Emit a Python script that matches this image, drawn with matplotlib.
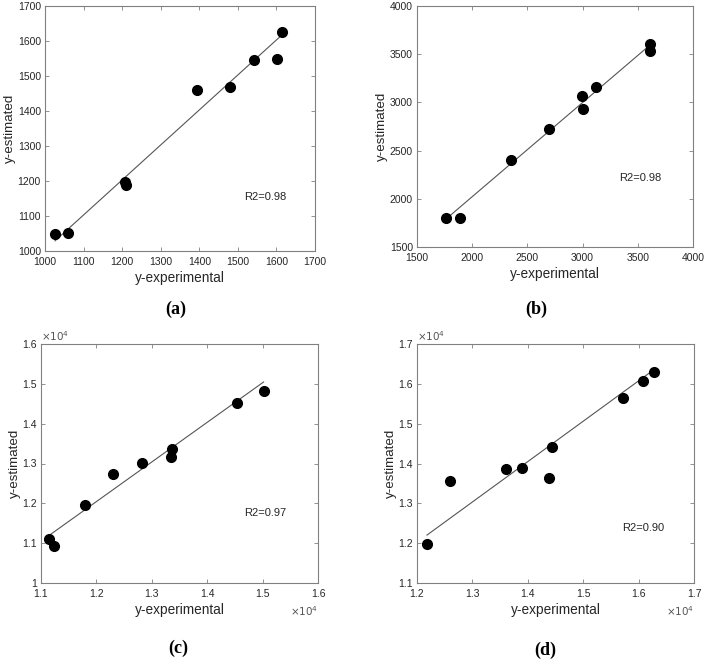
import matplotlib
matplotlib.use("Agg")
import matplotlib.pyplot as plt
from matplotlib.ticker import FuncFormatter

plt.rcParams['font.family'] = ['Liberation Sans', 'DejaVu Sans']

# Panel (a)
a_exp = [1027, 1060, 1207, 1210, 1394, 1479, 1543, 1601, 1615]
a_est = [1050, 1052, 1197, 1190, 1461, 1469, 1545, 1548, 1626]
a_fit_x = [1026, 1617]
a_fit_y = [1029, 1620]
a_ticks = [1000, 1100, 1200, 1300, 1400, 1500, 1600, 1700]

# Panel (b)
b_exp = [1766, 1892, 2351, 2699, 2998, 3004, 3124, 3611, 3611]
b_est = [1805, 1805, 2400, 2729, 3069, 2930, 3159, 3609, 3533]
b_fit_x = [1778, 3592]
b_fit_y = [1805, 3577]
b_ticks = [1500, 2000, 2500, 3000, 3500, 4000]

# Panel (c)
c_exp = [11145, 11229, 11795, 12307, 12831, 13343, 13361, 14536, 15018]
c_est = [11110, 10920, 11960, 12730, 13020, 13160, 13367, 14528, 14820]
c_fit_x = [11163, 15018]
c_fit_y = [11211, 15046]
c_xticks = [11000, 12000, 13000, 14000, 15000, 16000]
c_yticks = [10000, 11000, 12000, 13000, 14000, 15000, 16000]

# Panel (d)
d_exp = [12180, 12589, 13605, 13893, 14386, 14428, 15726, 16087, 16279]
d_est = [11977, 13570, 13857, 13899, 13632, 14417, 15637, 16071, 16305]
d_fit_x = [12180, 16309]
d_fit_y = [12203, 16388]
d_xticks = [12000, 13000, 14000, 15000, 16000, 17000]
d_yticks = [11000, 12000, 13000, 14000, 15000, 16000, 17000]

r2_labels = ["R2=0.98", "R2=0.98", "R2=0.97", "R2=0.90"]
panel_labels = ["(a)", "(b)", "(c)", "(d)"]

W, H = 708, 667
fig = plt.figure(figsize=(W / 100, H / 100), dpi=100)

def rect(l, r, t, b):
    return [l / W, (H - b) / H, (r - l) / W, (b - t) / H]

GRID = '#808080'
TXT = '#262626'

panels = [
    dict(pos=rect(45, 315, 6, 251), x=a_exp, y=a_est, fx=a_fit_x, fy=a_fit_y,
         xt=a_ticks, yt=a_ticks, sci=False, r2=(0.737, 0.22), lab=(176, 309)),
    dict(pos=rect(417, 693, 6, 247), x=b_exp, y=b_est, fx=b_fit_x, fy=b_fit_y,
         xt=b_ticks, yt=b_ticks, sci=False, r2=(0.732, 0.286), lab=(536, 309)),
    dict(pos=rect(41, 318, 344, 583), x=c_exp, y=c_est, fx=c_fit_x, fy=c_fit_y,
         xt=c_xticks, yt=c_yticks, sci=True, r2=(0.733, 0.293), lab=(178, 648)),
    dict(pos=rect(417, 694, 344, 583), x=d_exp, y=d_est, fx=d_fit_x, fy=d_fit_y,
         xt=d_xticks, yt=d_yticks, sci=True, r2=(0.74, 0.23), lab=(545, 650)),
]

for i, p in enumerate(panels):
    ax = fig.add_axes(p['pos'])
    ax.plot(p['fx'], p['fy'], color='#555555', lw=0.8, zorder=2)
    ax.plot(p['x'], p['y'], 'o', color='black', ms=7, zorder=3)
    ax.set_xlim(p['xt'][0], p['xt'][-1])
    ax.set_ylim(p['yt'][0], p['yt'][-1])
    ax.set_xticks(p['xt'])
    ax.set_yticks(p['yt'])
    if p['sci']:
        fmt = FuncFormatter(lambda v, pos: '%g' % round(v / 1e4, 3))
        ax.xaxis.set_major_formatter(fmt)
        ax.yaxis.set_major_formatter(fmt)
        ax.text(0.0, 1.005, r'$\times 10^4$', transform=ax.transAxes,
                ha='left', va='bottom', fontsize=7.5, color='#555555')
        ax.text(1.0, -0.09, r'$\times 10^4$', transform=ax.transAxes,
                ha='right', va='top', fontsize=7.5, color='#555555')
    for s in ax.spines.values():
        s.set_color(GRID)
        s.set_linewidth(0.8)
    ax.tick_params(direction='in', length=3, width=0.6, color=GRID,
                   top=True, right=True, labelsize=7.5, labelcolor=TXT)
    ax.tick_params(axis='x', pad=4)
    ax.tick_params(axis='y', pad=3)
    ax.set_xlabel('y-experimental', fontsize=9.8, color=TXT, labelpad=3)
    ax.set_ylabel('y-estimated', fontsize=9.6, color=TXT, labelpad=1)
    ax.text(p['r2'][0], p['r2'][1], r2_labels[i], transform=ax.transAxes,
            ha='left', va='center', fontsize=8, color=TXT)
    fig.text(p['lab'][0] / W, 1 - p['lab'][1] / H, panel_labels[i],
             ha='center', va='center', fontsize=13, fontweight='bold',
             family='Liberation Serif', color='black')

fig.savefig('out.png', dpi=100, facecolor='white')
